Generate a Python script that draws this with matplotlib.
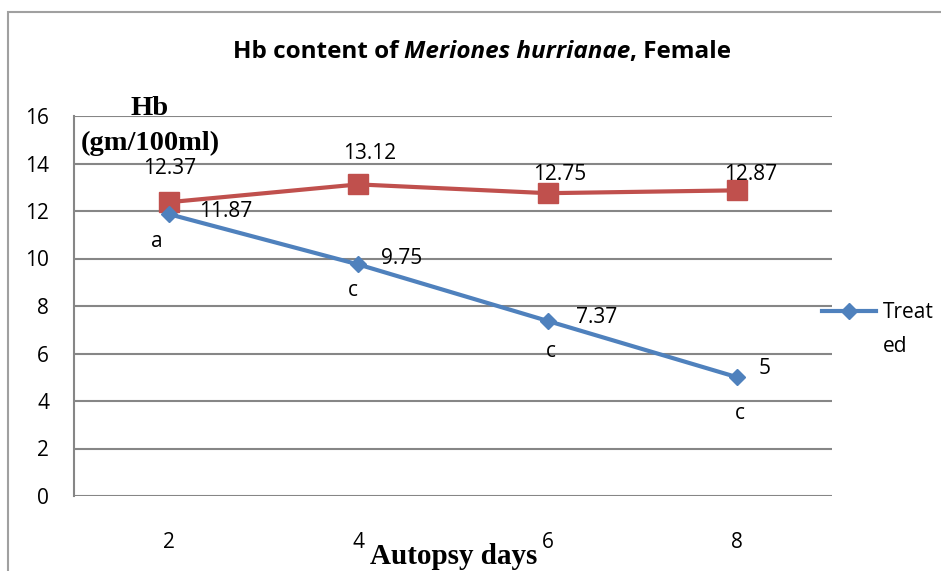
import matplotlib
matplotlib.use("Agg")
import matplotlib.pyplot as plt
from matplotlib.patches import Rectangle
from matplotlib.lines import Line2D

days = ["2", "4", "6", "8"]
treated = [11.87, 9.75, 7.37, 5]
control = [12.37, 13.12, 12.75, 12.87]
letters = ["a", "c", "c", "c"]
yticks = [0, 2, 4, 6, 8, 10, 12, 14, 16]

BLUE = "#4F81BD"
RED = "#C0504D"
GRID = "#868686"
SANS = ["Open Sans", "DejaVu Sans"]
SERIF = ["Liberation Serif", "DejaVu Serif"]
W, H = 941, 571

fig = plt.figure(figsize=(9.41, 5.71), dpi=100)
# outer chart border
fig.patches.append(Rectangle((8 / W, -0.1), 2.0, (H - 12) / H + 0.1,
                             transform=fig.transFigure, fill=False,
                             edgecolor="#A0A0A0", linewidth=1.5))

ax = fig.add_axes([74 / W, 75 / H, (832 - 74) / W, (496 - 116) / H])
x = list(range(len(days)))
ax.plot(x, control, color=RED, linewidth=3, marker="s", markersize=14,
        markerfacecolor=RED, markeredgecolor=RED, zorder=3)
ax.plot(x, treated, color=BLUE, linewidth=3, marker="D", markersize=8.5,
        markerfacecolor=BLUE, markeredgecolor=BLUE, zorder=4)

ax.set_xlim(-0.5, len(days) - 0.5)
ax.set_ylim(0, 16)
ax.set_yticks(yticks)
ax.set_xticks(x)
ax.set_xticklabels(days)
for s in ["top", "right", "bottom"]:
    ax.spines[s].set_visible(False)
ax.spines["left"].set_color(GRID)
ax.spines["left"].set_linewidth(1.5)
ax.yaxis.grid(True, color=GRID, linewidth=1.5)
ax.set_axisbelow(True)
ax.tick_params(axis="both", length=0, labelsize=15)
ax.tick_params(axis="y", pad=18)
ax.tick_params(axis="x", pad=26)
for lab in ax.get_xticklabels() + ax.get_yticklabels():
    lab.set_fontfamily(SANS)

ctrl_off = [(1, 34), (11, 31), (12, 19), (13, 16)]
trt_off = [(57, 3), (43, 6), (49, 3), (27, 9)]
let_off = [(-12, -27), (-5, -26), (3, -31), (3, -36)]
for i in x:
    ax.annotate(f"{control[i]:g}", (i, control[i]), xytext=ctrl_off[i],
                textcoords="offset pixels", ha="center", va="center",
                fontsize=15, family=SANS)
    ax.annotate(f"{treated[i]:g}", (i, treated[i]), xytext=trt_off[i],
                textcoords="offset pixels", ha="center", va="center",
                fontsize=15, family=SANS)
    ax.annotate(letters[i], (i, treated[i]), xytext=let_off[i],
                textcoords="offset pixels", ha="center", va="center",
                fontsize=15, family=SANS)

# title in three pieces (bold, bold italic, bold)
parts = [("Hb content of", "normal"), ("Meriones hurrianae", "italic"),
         (", Female", "normal")]
gaps = [6, 0]
tbase = 1 - 58 / H
texts = [fig.text(0, tbase, s, ha="left", va="baseline", fontsize=17.5,
                  fontweight="bold", fontstyle=st, family=SANS)
         for s, st in parts]
r = fig.canvas.get_renderer()
widths = [t.get_window_extent(r).width for t in texts]
total = sum(widths) + sum(gaps)
xpos = 482 - total / 2
for k, (t, w) in enumerate(zip(texts, widths)):
    t.set_x(xpos / W)
    xpos += w + (gaps[k] if k < len(gaps) else 0)

fig.text(150 / W, 1 - 115 / H, "Hb", ha="center", va="baseline",
         fontsize=20.5, fontweight="bold", family=SERIF)
fig.text(150 / W, 1 - 150 / H, "(gm/100ml)", ha="center", va="baseline",
         fontsize=20.5, fontweight="bold", family=SERIF)
fig.text(454 / W, 1 - 564 / H, "Autopsy days", ha="center", va="baseline",
         fontsize=21, fontweight="bold", family=SERIF)

# legend
fig.lines.append(Line2D([822 / W, 876 / W], [1 - 311 / H] * 2,
                        transform=fig.transFigure, color=BLUE, linewidth=3))
fig.lines.append(Line2D([849 / W], [1 - 311 / H], transform=fig.transFigure,
                        color=BLUE, marker="D", markersize=8.5, linestyle="none"))
fig.text(883 / W, 1 - 313 / H, "Treat", ha="left", va="center",
         fontsize=15, family=SANS)
fig.text(883 / W, 1 - 346 / H, "ed", ha="left", va="center",
         fontsize=15, family=SANS)

fig.savefig("out.png", dpi=100)
